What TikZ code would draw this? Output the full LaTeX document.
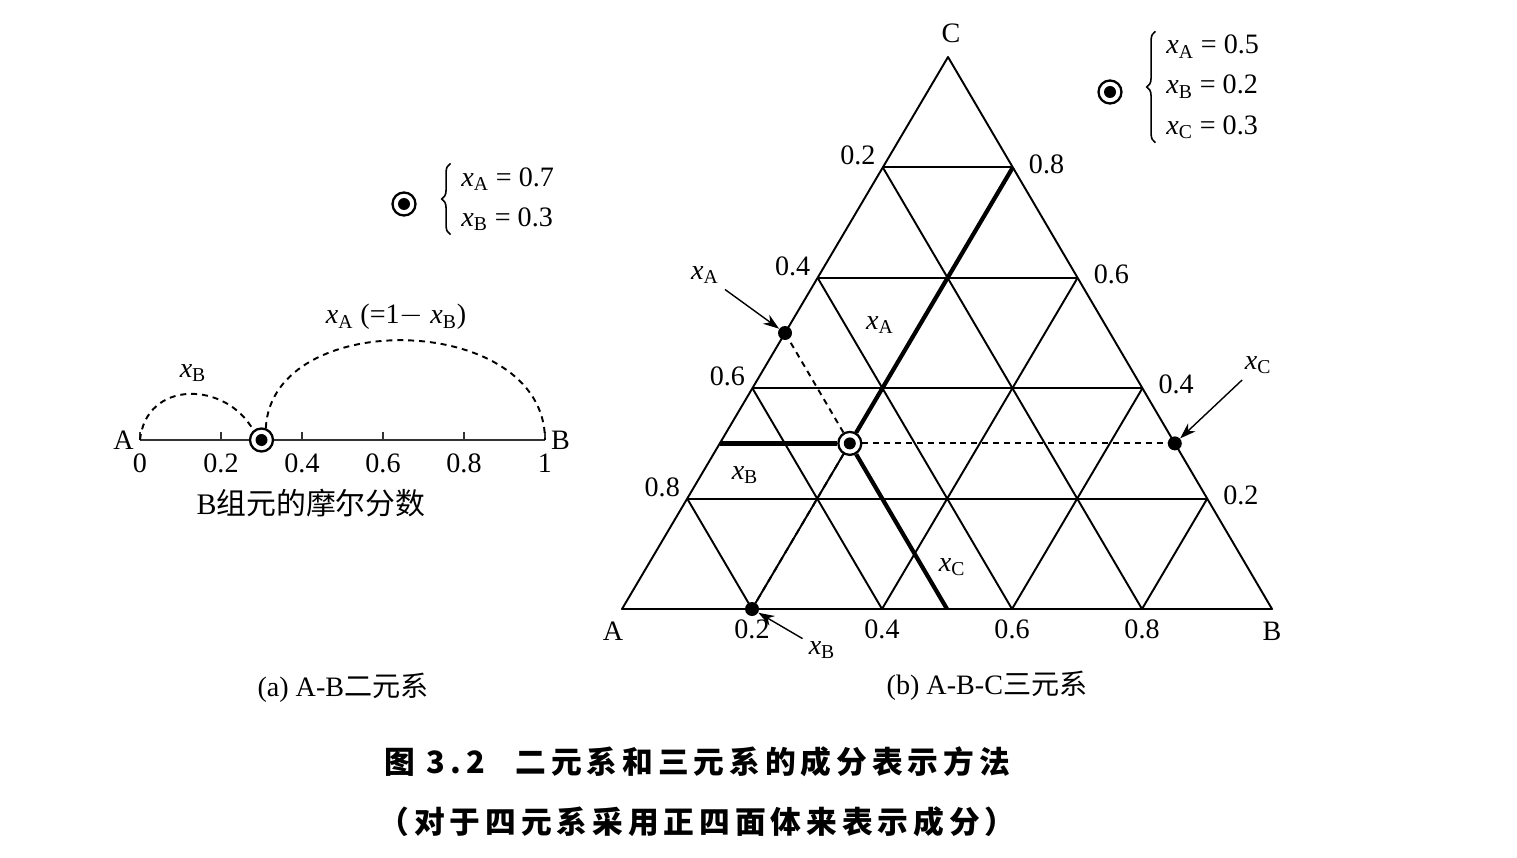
\documentclass[tikz,border=0pt]{standalone}
\usepackage{fontspec}
\setmainfont{Liberation Serif}
\newfontfamily\cjk{Noto Sans CJK SC}
\newfontfamily\capfont[LetterSpace=16]{Noto Sans CJK SC}
\usetikzlibrary{positioning,arrows.meta,calc,decorations.pathreplacing}
\newcommand\figfont{\fontsize{16}{19}\selectfont}
\newcommand\xv[1]{\textit{x}\textsubscript{#1}}
\tikzset{
  gridline/.style={line width=1.1pt, line join=round},
  boldline/.style={line width=2.4pt},
  guideline/.style={line width=1.1pt, dash pattern=on 3.4pt off 2.8pt},
  axisline/.style={line width=1.4pt, black!80},
  pointer/.style={-{Stealth[length=3.2mm, width=2.2mm]}, line width=0.8pt},
  markdot/.style={circle, fill, inner sep=0pt, minimum size=0.28cm},
  targetnode/.style={circle, draw, line width=1.3pt, fill=white, inner sep=0pt, minimum size=0.46cm,
    path picture={\fill[black] (path picture bounding box.center) circle (0.12cm);}},
  ticklabel/.style={anchor=north, inner sep=2pt},
  keytext/.style={anchor=west, inner sep=0pt, align=left, font=\figfont\linespread{1.2}\selectfont},
  keybrace/.style={decorate, decoration={brace, amplitude=5pt}, line width=0.9pt}
}

\begin{document}
\begin{tikzpicture}[>=Stealth, x=0.02cm, y=-0.02cm, every node/.style={font=\figfont}]
  \useasboundingbox (0,0) rectangle (1517,858);

  % (a) binary system
  \coordinate (a0) at (140,440);
  \coordinate (a1) at (545,440);
  \draw[axisline] (a0) -- (a1);
  \foreach \k/\t in {0/0, 1/0.2, 2/0.4, 3/0.6, 4/0.8, 5/1}{
    \draw[axisline] (140+81*\k,440) -- ++(0,-8);
    \node[ticklabel] (ax\k) at (140+81*\k,450) {\t};
  }
  \node[anchor=east] (labA) at (a0) {A};
  \node[anchor=west] (labB) at (a1) {B};
  \node[targetnode] (pAB) at (261.5,440) {};
  \draw[guideline] (a0) .. controls +(6,-60) and +(-28,-50) .. (pAB.130);
  \draw[guideline] (pAB.70) .. controls +(6,-122) and +(0,-128) .. (a1);
  \node (lbB) at (193,373) {\xv{B}};
  \node (lbA) at (396,317) {\xv{A} (=1$-$ \xv{B})};
  \node (axname) at (311,503) {\fontsize{17}{20}\selectfont B{\cjk 组元的摩尔分数}};
  \node[targetnode] (keyAB) at (404,204) {};
  \node[keytext] (keyL) at (461,199) {\xv{A} = 0.7\\ \xv{B} = 0.3};
  \draw[keybrace] ([xshift=-6pt,yshift=-2pt]keyL.south west) -- ([xshift=-6pt,yshift=2pt]keyL.north west);
  \node (capa) at (343,688) {(a) A-B{\cjk 二元系}};

  % (b) ternary system
  \coordinate (tA) at (622,609);
  \coordinate (tB) at (1272,609);
  \coordinate (tC) at (948,57);
  \draw[gridline] (tA) -- (tB) -- (tC) -- cycle;
  \foreach \i in {0.2,0.4,0.6,0.8}{
    \pgfmathsetmacro\j{1-\i}
    \draw[gridline] (barycentric cs:tA=\j,tC=\i) -- (barycentric cs:tB=\j,tC=\i);
    \draw[gridline] (barycentric cs:tA=\i,tC=\j) -- (barycentric cs:tA=\i,tB=\j);
    \draw[gridline] (barycentric cs:tB=\i,tC=\j) -- (barycentric cs:tB=\i,tA=\j);
    \node[anchor=south east, inner sep=1pt, xshift=-3pt] at (barycentric cs:tA=\i,tC=\j) {\i};
    \node[anchor=west, inner sep=1pt, xshift=8pt, yshift=2pt] at (barycentric cs:tC=\i,tB=\j) {\i};
    \node[ticklabel, yshift=-4pt] at (barycentric cs:tB=\i,tA=\j) {\i};
  }
  \node (labTA) at (613,631) {A};
  \node (labTB) at (1272,631) {B};
  \node (labTC) at (951,33) {C};

  \node[targetnode] (pt) at (barycentric cs:tA=0.5,tB=0.2,tC=0.3) {};
  \coordinate (fC) at (barycentric cs:tA=0.7,tC=0.3);
  \coordinate (fB) at (barycentric cs:tB=0.2,tC=0.8);
  \coordinate (fA) at (barycentric cs:tA=0.5,tB=0.5);
  \node[markdot] (dA) at (barycentric cs:tA=0.5,tC=0.5) {};
  \node[markdot] (dC) at (barycentric cs:tB=0.7,tC=0.3) {};
  \node[markdot] (dB) at (barycentric cs:tA=0.8,tB=0.2) {};
  \draw[boldline] (pt) -- (fC);
  \draw[boldline] (pt) -- (fB);
  \draw[boldline] (pt) -- (fA);
  \draw[guideline] (pt) -- (dA);
  \draw[guideline] (pt) -- (dC);
  \draw[guideline] (pt) -- (dB);

  \node (ptA) at (705,275) {\xv{A}};
  \node (ptC) at (1258,365) {\xv{C}};
  \node (ptB) at (822,650) {\xv{B}};
  \draw[pointer] (ptA) -- (dA);
  \draw[pointer] (ptC) -- (dC);
  \draw[pointer] (ptB) -- (dB);
  \node (inA) at (880,325) {\xv{A}};
  \node (inB) at (745,475) {\xv{B}};
  \node (inC) at (952,567) {\xv{C}};

  \node[targetnode] (keyABC) at (1110,92) {};
  \node[keytext] (keyR) at (1166,87) {\xv{A} = 0.5\\ \xv{B} = 0.2\\ \xv{C} = 0.3};
  \draw[keybrace] ([xshift=-6pt,yshift=-2pt]keyR.south west) -- ([xshift=-6pt,yshift=2pt]keyR.north west);
  \node (capb) at (987,686) {(b) A-B-C{\cjk 三元系}};

  % figure caption
  \node (cap1) at (697,762) {\fontsize{17.5}{20}\capfont\bfseries 图 3.2\quad 二元系和三元系的成分表示方法};
  \node (cap2) at (697,822) {\fontsize{17.5}{20}\capfont\bfseries （对于四元系采用正四面体来表示成分）};
\end{tikzpicture}
\end{document}
